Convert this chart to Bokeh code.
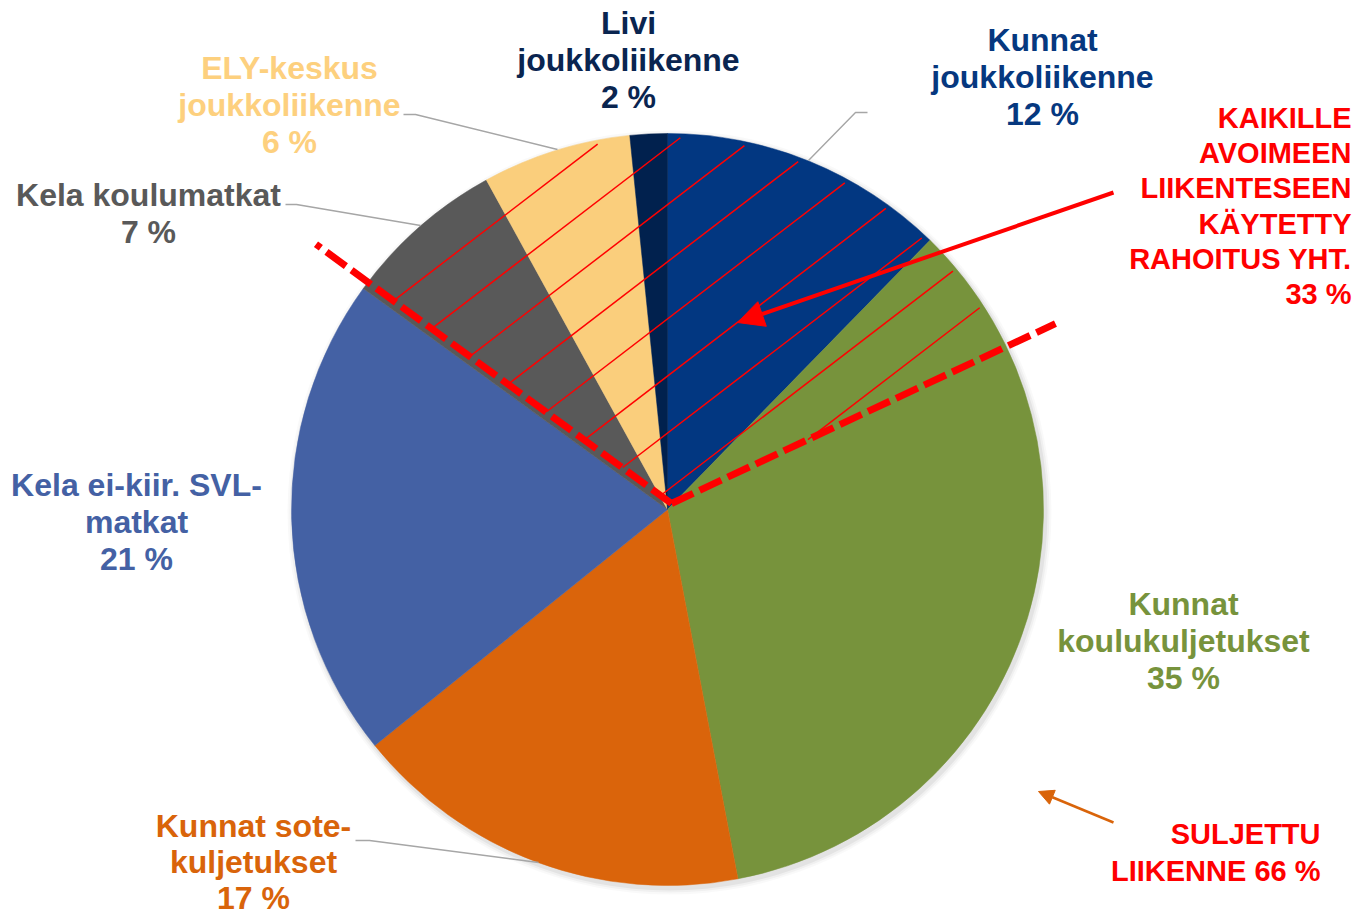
import math
import numpy as np
from bokeh.plotting import figure
from bokeh.models import ColumnDataSource, Range1d, Arrow, NormalHead
from bokeh.core.properties import value
from bokeh.embed import file_html
from bokeh.resources import INLINE

# ---------------- data ----------------
categories = ["Kunnat joukkoliikenne", "Kunnat koulukuljetukset", "Kunnat sote-kuljetukset",
              "Kela ei-kiir. SVL-matkat", "Kela koulumatkat", "ELY-keskus joukkoliikenne",
              "Livi joukkoliikenne"]
label_lines = [["Kunnat", "joukkoliikenne"], ["Kunnat", "koulukuljetukset"],
               ["Kunnat sote-", "kuljetukset"], ["Kela ei-kiir. SVL-", "matkat"],
               ["Kela koulumatkat"], ["ELY-keskus", "joukkoliikenne"], ["Livi", "joukkoliikenne"]]
shares = [12.3, 34.7, 17.2, 20.8, 7.0, 6.4, 1.6]
open_share = 33      # kaikille avoimeen liikenteeseen käytetty rahoitus
closed_share = 66    # suljettu liikenne
open_text = ["KAIKILLE", "AVOIMEEN", "LIIKENTESEEN", "KÄYTETTY", "RAHOITUS YHT."]
closed_text = ["SULJETTU", "LIIKENNE"]

# ---------------- styles / layout ----------------
slice_colors = ["#023781", "#77933C", "#DA640B", "#4461A4", "#595959", "#FACE7C", "#01214E"]
text_colors = ["#06387F", "#77933C", "#D9640A", "#4461A4", "#595959", "#FDD07E", "#0A2550"]
label_x = [1042, 1183, 253, 136, 148, 289, 628]          # page px (centre)
label_mid = [39, 603, 825, 484, 194, 67, 22]             # page px (first line middle)
label_lh = [37, 37, 36, 37, 37, 37, 37]                  # line spacing per label
FONT = value("Liberation Sans")

W, H = 1356, 917
CX, CY, R = 667, 509, 376


def D(x, y):
    return x - CX, CY - y


p = figure(width=W, height=H, x_range=Range1d(-CX, W - CX),
           y_range=Range1d(CY - H, CY), output_backend="svg",
           toolbar_location=None, min_border=0)
p.axis.visible = False
p.grid.visible = False
p.outline_line_color = None
p.background_fill_color = "white"
p.border_fill_color = "white"

# soft shadow
for dr, a in [(6, 0.025), (4, 0.035), (2, 0.05)]:
    p.circle(x=2, y=-3, radius=R + dr, fill_color="black", fill_alpha=a, line_color=None)

# pie
cum = np.concatenate([[0], np.cumsum(shares)]) / 100.0
starts = math.pi / 2 - 2 * math.pi * cum[:-1]
ends = math.pi / 2 - 2 * math.pi * cum[1:]
src = ColumnDataSource(dict(start=starts, end=ends, color=slice_colors, cat=categories))
p.wedge(x=0, y=0, radius=R, start_angle="start", end_angle="end", direction="clock",
        fill_color="color", line_color="color", line_width=0.5, source=src)

# leader lines
leaders = [
    [(867, 112), (855, 112), (808, 160)],
    [(355, 840), (369, 840), (538, 862)],
    [(285, 204), (296, 204), (420, 225)],
    [(403, 114), (415, 114), (557, 149)],
]
for pts in leaders:
    xs, ys = zip(*[D(*q) for q in pts])
    p.line(list(xs), list(ys), line_color="#A6A6A6", line_width=1.4)

# hatch lines within the "open traffic" sector
apex = np.array(D(671, 503))
a_right = math.radians(25.1)
a_left = a_right + 2 * math.pi * open_share / 100.0
theta = math.radians(37.5)
d = np.array([math.cos(theta), math.sin(theta)])
nvec = np.array([-math.sin(theta), math.cos(theta)])
Rh = 372
hx0, hy0, hx1, hy1 = [], [], [], []
for k in range(9):
    c = -30 + 45.3 * k
    ts = np.arange(-Rh, Rh, 0.5)
    pts = c * nvec[None, :] + ts[:, None] * d[None, :]
    rad_ok = np.hypot(pts[:, 0], pts[:, 1]) <= Rh
    rel = pts - apex[None, :]
    ang = np.arctan2(rel[:, 1], rel[:, 0])
    ang_ok = (ang >= a_right) & (ang <= a_left)
    ok = rad_ok & ang_ok
    if ok.any():
        tt = ts[ok]
        p0 = c * nvec + tt.min() * d
        p1 = c * nvec + tt.max() * d
        hx0.append(p0[0]); hy0.append(p0[1]); hx1.append(p1[0]); hy1.append(p1[1])
p.segment(x0=hx0, y0=hy0, x1=hx1, y1=hy1, line_color="#FF0000", line_width=1.5)

# dashed sector boundaries
for ang, L in [(a_left, 440), (a_right, 424)]:
    p.line([apex[0], apex[0] + L * math.cos(ang)], [apex[1], apex[1] + L * math.sin(ang)],
           line_color="#FF0000", line_width=7, line_dash="24 7", line_cap="butt")

# arrows
rx0, ry0 = D(1113, 192)
rx1, ry1 = D(737, 322)
p.add_layout(Arrow(end=NormalHead(size=26, fill_color="#FF0000", line_color="#FF0000"),
                   x_start=rx0, y_start=ry0, x_end=rx1, y_end=ry1,
                   line_color="#FF0000", line_width=4))
ox0, oy0 = D(1113, 822)
ox1, oy1 = D(1038, 791)
p.add_layout(Arrow(end=NormalHead(size=15, fill_color="#D9640A", line_color="#D9640A"),
                   x_start=ox0, y_start=oy0, x_end=ox1, y_end=oy1,
                   line_color="#D9640A", line_width=2.5))

# category labels
tx, ty, tt_, tc = [], [], [], []
for i, lines in enumerate(label_lines):
    all_lines = lines + [f"{round(shares[i])} %"]
    for j, s in enumerate(all_lines):
        x, y = D(label_x[i], label_mid[i] + j * label_lh[i])
        tx.append(x); ty.append(y); tt_.append(s); tc.append(text_colors[i])
p.text(x=tx, y=ty, text=tt_, text_color=tc, text_font=FONT, text_font_style="bold",
       text_font_size="32px", text_align="center", text_baseline="middle")

# red annotations
rl = open_text + [f"{open_share} %"]
rxs, rys = [], []
for j, s in enumerate(rl):
    x, y = D(1351, 117.5 + j * 35.2)
    rxs.append(x); rys.append(y)
p.text(x=rxs, y=rys, text=rl, text_color="#FF0000", text_font=FONT, text_font_style="bold",
       text_font_size="29px", text_align="right", text_baseline="middle")

cl = [closed_text[0], f"{closed_text[1]} {closed_share} %"]
cxs, cys = [], []
for j, s in enumerate(cl):
    x, y = D(1320, 833 + j * 37)
    cxs.append(x); cys.append(y)
p.text(x=cxs, y=cys, text=cl, text_color="#FF0000", text_font=FONT, text_font_style="bold",
       text_font_size="29px", text_align="right", text_baseline="middle")

open("out.html", "w").write(file_html(p, INLINE))
